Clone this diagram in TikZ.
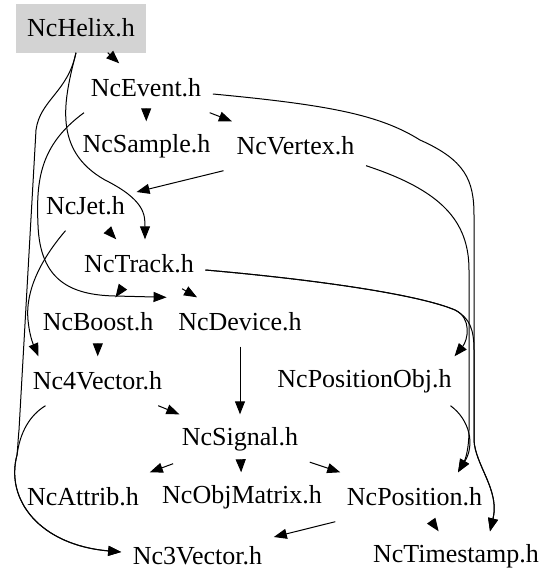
\documentclass[tikz,border=0pt]{standalone}
\usepackage{fontspec}
\setmainfont{Liberation Serif}
\usepackage{tikz}
\usetikzlibrary{arrows.meta}
\definecolor{my_rootgray}{HTML}{D3D3D3}
\definecolor{my_black}{HTML}{000000}

\begin{document}
\begin{tikzpicture}[
    x=1pt, y=-1pt,
    file/.style={rectangle, inner xsep=11.5pt, inner ysep=0pt, minimum height=49pt,
        font=\fontsize{26}{30}\selectfont},
    rootfile/.style={file, fill=my_rootgray},
    include/.style={draw=my_black, line width=1pt, -{Triangle[length=13pt, width=10pt]}}
]
\useasboundingbox (0,0) rectangle (557,587);

% --- Dateien (Ränge von oben nach unten) ---
\node[rootfile] (helix)   at (81,28)    {NcHelix.h};
\node[file] (event)       at (146,88)   {NcEvent.h};
\node[file] (sample)      at (146.5,146) {NcSample.h};
\node[file] (vertex)      at (295.5,146) {NcVertex.h};
\node[file] (jet)         at (85.5,206) {NcJet.h};
\node[file] (track)       at (139,264)  {NcTrack.h};
\node[file] (boost)       at (98,322)   {NcBoost.h};
\node[file] (device)      at (240,322)  {NcDevice.h};
\node[file] (vecfour)     at (97.5,381) {Nc4Vector.h};
\node[file] (posobj)      at (364.5,381) {NcPositionObj.h};
\node[file] (signal)      at (240,439)  {NcSignal.h};
\node[file] (attrib)      at (83,497)   {NcAttrib.h};
\node[file] (objmatrix)   at (242,497)  {NcObjMatrix.h};
\node[file] (position)    at (414.5,497) {NcPosition.h};
\node[file] (vecthree)    at (197.5,556) {Nc3Vector.h};
\node[file] (timestamp)   at (456,556)  {NcTimestamp.h};

% --- Gerade Includes ---
\draw[include] (helix) -- (event);
\draw[include] (event) -- (sample);
\draw[include] (event) -- (vertex);
\draw[include] ([xshift=-72pt]vertex.south) -- ([yshift=14pt]jet.east);
\draw[include] (jet) -- (track);
\draw[include] (track) -- (boost);
\draw[include] (track) -- (device);
\draw[include] (boost) -- (vecfour);
\draw[include] (device) -- (signal);
\draw[include] (vecfour) -- (signal);
\draw[include] (signal) -- (attrib);
\draw[include] (signal) -- (objmatrix);
\draw[include] (signal) -- (position);
\draw[include] (position.south west) -- ([yshift=19pt]vecthree.east);
\draw[include] (position) -- (timestamp);

% --- Gebogene Includes, linke Seite ---
% NcHelix -> NcTrack
\draw[include] ([xshift=-5pt]helix.south) .. controls (64,100) and (52,150) .. (105,180)
    .. controls (145,200) and (145,215) .. ([xshift=6pt]track.north);
% NcHelix -> Nc3Vector
\draw[include] ([xshift=-5pt]helix.south) .. controls (68,92) and (40,100) .. (36,130)
    -- (19,430) .. controls (18,440) and (18,445) .. (17,455)
    .. controls (5,500) and (40,545) .. ([yshift=4pt]vecthree.west);
% NcEvent -> NcDevice
\draw[include] ([xshift=-62pt]event.south) .. controls (40,145) and (36,180) .. (38,225)
    .. controls (40,280) and (70,295) .. (115,296) -- (device.north west);
% NcJet -> Nc4Vector
\draw[include] ([xshift=-20pt]jet.south) .. controls (42,258) and (25,290) .. (28,320)
    .. controls (30,340) and (35,348) .. ([xshift=-59pt]vecfour.north);
% Nc4Vector -> Nc3Vector
\draw[include] ([xshift=-52pt]vecfour.south) .. controls (30,415) and (20,432) .. (17,455)
    .. controls (5,500) and (40,545) .. ([yshift=4pt]vecthree.west);

% --- Gebogene Includes, rechte Seite ---
% NcEvent -> NcTimestamp
\draw[include] ([yshift=-6pt]event.east) .. controls (330,105) and (380,115) .. (420,140)
    .. controls (465,160) and (474,180) .. (474,215) -- (474,440)
    .. controls (475,465) and (500,490) .. ([xshift=34pt]timestamp.north);
% NcVertex -> NcPosition
\draw[include] ([yshift=5pt]vertex.south east) .. controls (440,190) and (469,220) .. (469,270)
    -- (469,430) .. controls (469,450) and (465,460) .. ([xshift=43.5pt]position.north);
% NcTrack -> NcPositionObj
\draw[include] ([yshift=-6pt]track.east) .. controls (320,280) and (420,295) .. (455,310)
    .. controls (472,318) and (468,340) .. ([xshift=90pt]posobj.north);
% NcTrack -> NcTimestamp
\draw[include] ([yshift=-6pt]track.east) .. controls (320,280) and (420,295) .. (455,310)
    .. controls (470,318) and (474,330) .. (474,350) -- (474,440)
    .. controls (475,465) and (500,490) .. ([xshift=34pt]timestamp.north);
% NcPositionObj -> NcPosition
\draw[include] ([xshift=86pt]posobj.south) .. controls (470,420) and (475,445) .. ([xshift=43.5pt]position.north);

\end{tikzpicture}
\end{document}
